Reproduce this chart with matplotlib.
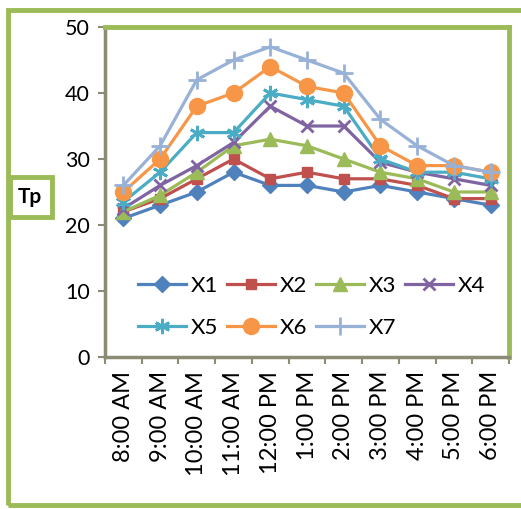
import matplotlib.pyplot as plt
from matplotlib.patches import Rectangle

times = ["8:00 AM", "9:00 AM", "10:00 AM", "11:00 AM", "12:00 PM", "1:00 PM",
         "2:00 PM", "3:00 PM", "4:00 PM", "5:00 PM", "6:00 PM"]
x1 = [21, 23, 25, 28, 26, 26, 25, 26, 25, 24, 23]
x2 = [22, 24, 27, 30, 27, 28, 27, 27, 26, 24, 24]
x3 = [22, 24.5, 28, 32, 33, 32, 30, 28, 27, 25, 25]
x4 = [22.5, 26, 29, 32.5, 38, 35, 35, 29.5, 28, 27, 26]
x5 = [23.5, 28, 34, 34, 40, 39, 38, 30, 28, 28, 27]
x6 = [25, 30, 38, 40, 44, 41, 40, 32, 29, 29, 28]
x7 = [26, 32, 42, 45, 47, 45, 43, 36, 32, 29, 28]
names = ["X1", "X2", "X3", "X4", "X5", "X6", "X7"]

series = [x1, x2, x3, x4, x5, x6, x7]
colors = ["#4F81BD", "#C0504D", "#9BBB59", "#8064A2", "#4BACC6", "#F79646", "#98B1D6"]
markers = ["D", "s", "^", "x", (6, 2, 0), "o", "+"]
msizes = [8.5, 7, 9.5, 9, 11, 11.5, 13]

green = "#9BBB59"
axis_gray = "#8C8C74"

plt.rcParams['font.family'] = ['Lato', 'DejaVu Sans']

W, H = 521, 509
fig = plt.figure(figsize=(W / 100, H / 100), dpi=100)

# outer green frame (right edge runs off the picture)
fig.patches.append(Rectangle((8 / W, 1 - 505 / H), 560 / W, (505 - 10) / H,
                             transform=fig.transFigure, fill=False,
                             edgecolor=green, linewidth=3.5))

ax = fig.add_axes([105 / W, 1 - 357 / H, (509 - 105) / W, (357 - 27) / H])
pos = list(range(len(times)))
handles = []
for i, s in enumerate(series):
    thin = markers[i] in ("x", "+") or isinstance(markers[i], tuple)
    h, = ax.plot(pos, s, color=colors[i], marker=markers[i], markersize=msizes[i],
                 linewidth=2.3, markeredgewidth=2 if thin else 1,
                 label=names[i], zorder=3 + i)
    handles.append(h)

ax.set_xlim(-0.5, len(times) - 0.5)
ax.set_ylim(0, 50)
ax.set_yticks([0, 10, 20, 30, 40, 50])
ax.set_xticks(pos)
ax.set_xticklabels(times, rotation=90, fontsize=17)
ax.set_xticks([p - 0.5 for p in pos] + [len(times) - 0.5], minor=True)
ax.tick_params(axis='x', which='major', length=0, pad=10)
ax.tick_params(axis='x', which='minor', length=5, width=1.5, color=axis_gray)
ax.tick_params(axis='y', length=5, width=1.5, color=axis_gray, labelsize=15.5, pad=6)

for side in ("top", "right"):
    ax.spines[side].set_color(green)
    ax.spines[side].set_linewidth(3.5)
for side in ("left", "bottom"):
    ax.spines[side].set_color(axis_gray)
    ax.spines[side].set_linewidth(2.5)

order = [0, 4, 1, 5, 2, 6, 3]
ax.legend([handles[i] for i in order], [names[i] for i in order], ncol=4,
          loc='upper left', bbox_to_anchor=(118 / W, 1 - 256 / H),
          bbox_transform=fig.transFigure, frameon=False, fontsize=16,
          handlelength=2.15, handletextpad=0.22, columnspacing=0.4, labelspacing=1.0)

# Tp label box
fig.patches.append(Rectangle((10 / W, 1 - 217 / H), 42 / W, 40 / H,
                             transform=fig.transFigure, facecolor="white",
                             edgecolor=green, linewidth=3.5, zorder=5))
fig.text(30 / W, 1 - 197 / H, "Tp", ha="center", va="center",
         fontsize=15, fontweight="bold", zorder=6)

fig.savefig("out.png", dpi=100)
